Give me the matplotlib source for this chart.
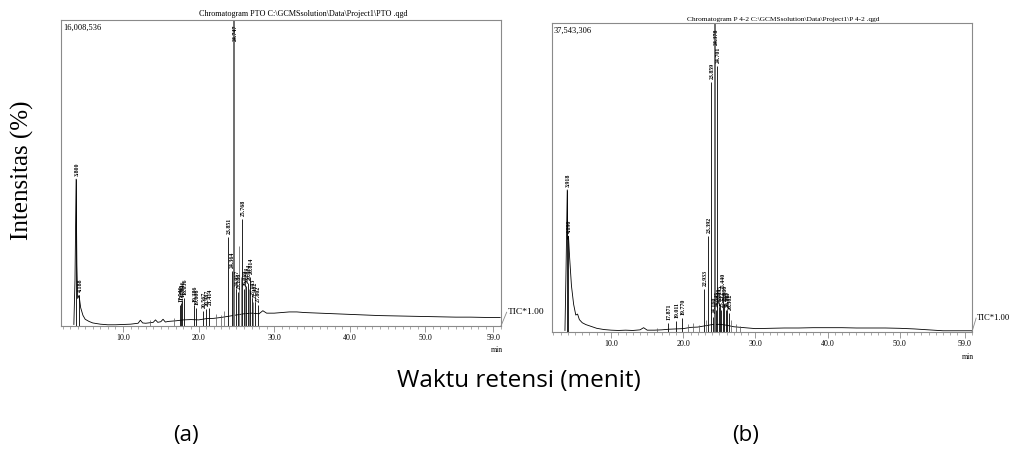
#
# Kromatogram GC-MS: (a) PTO dan (b) P 4-2
#

import matplotlib
matplotlib.use("Agg")
import matplotlib.pyplot as plt
from matplotlib.ticker import FixedLocator, MultipleLocator

#
# Data: waktu retensi (menit), intensitas (% dari puncak tertinggi)
#

# garis dasar / bentuk lebar kromatogram (a)
trace_a = [(3.5, 0.5), (3.65, 15), (3.8, 48), (3.9, 20), (4.0, 9), (4.188, 10),
           (4.4, 6), (4.7, 3.5), (5.0, 2.2), (5.5, 1.5), (6.0, 1.0), (7.0, 0.6),
           (8.0, 0.4), (9.0, 0.4), (10.0, 0.5), (11.0, 0.6), (12.0, 0.9), (12.3, 1.9),
           (12.6, 1.0), (13.0, 0.9), (14.0, 1.2), (14.3, 2.0), (14.6, 1.2), (15.0, 1.4),
           (15.3, 2.2), (15.6, 1.3), (16.0, 1.5), (16.5, 1.6), (17.0, 1.7), (18.0, 2.0),
           (19.0, 2.1), (20.0, 2.0), (21.0, 2.4), (22.0, 2.5), (23.0, 2.8), (24.0, 3.2),
           (25.0, 3.6), (26.0, 4.0), (27.0, 4.2), (28.0, 4.0), (28.5, 5.0), (29.0, 4.2),
           (30.0, 4.2), (31.0, 4.4), (32.0, 4.6), (33.0, 4.6), (34.0, 4.4), (35.0, 4.3),
           (36.0, 4.2), (38.0, 4.0), (40.0, 3.8), (42.0, 3.6), (44.0, 3.4), (46.0, 3.3),
           (48.0, 3.2), (50.0, 3.1), (52.0, 3.0), (54.0, 2.9), (56.0, 2.9), (58.0, 2.8),
           (59.9, 2.8)]

# puncak tajam (a)
peak_time_a = [3.800, 4.188, 17.546, 17.715, 17.846, 18.036, 19.386, 19.606, 20.567,
               20.987, 21.414, 23.851, 24.364, 24.747, 24.957, 25.186, 25.768, 26.019,
               26.233, 26.514, 26.814, 27.103, 27.402, 27.802]
peak_int_a = [48, 10, 7, 7.5, 8.5, 9, 7, 6, 5, 5.5, 6, 29, 18, 100, 12, 11, 35, 12,
              13, 14, 16, 9, 8, 7]
label_a = ["3.800", "4.188", "17.546", "17.715", "17.846", "18.036", "19.386",
           "19.606", "20.567", "20.987", "21.414", "23.851", "24.364", "24.747",
           "24.957", "25.186", "25.768", "26.019", "26.233", "26.514", "26.814",
           "27.103", "27.402", "27.802"]

# puncak kecil tanpa label (a)
small_time_a = [13.6, 16.8, 22.3, 22.9, 23.4, 24.55, 25.35, 25.55, 26.1, 26.7, 27.25]
small_int_a = [1.8, 2.5, 4, 3.5, 5, 20, 26, 16, 18, 12, 8]

# garis dasar kromatogram (b)
trace_b = [(3.6, 0.5), (3.75, 20), (3.918, 46), (3.98, 30), (4.09, 31), (4.25, 24),
           (4.5, 15), (4.8, 9), (5.1, 5.5), (5.35, 5.8), (5.6, 4), (6.0, 3),
           (6.5, 2.4), (7.0, 2.0), (7.5, 1.6), (8.0, 1.2), (9.0, 0.8), (10.0, 0.6),
           (11.0, 0.5), (12.0, 0.6), (13.0, 0.5), (14.0, 0.7), (14.5, 1.4), (15.0, 0.6),
           (16.0, 0.6), (17.0, 0.7), (18.0, 0.9), (19.0, 1.0), (20.0, 1.1), (21.0, 1.5),
           (22.0, 1.6), (23.0, 2.0), (24.0, 2.4), (25.0, 2.5), (26.0, 2.2), (27.0, 1.7),
           (28.0, 1.5), (29.0, 1.3), (30.0, 1.1), (32.0, 1.2), (34.0, 1.3), (36.0, 1.3),
           (38.0, 1.4), (40.0, 1.4), (42.0, 1.4), (44.0, 1.3), (46.0, 1.3), (48.0, 1.3),
           (50.0, 1.2), (52.0, 1.0), (54.0, 0.7), (56.0, 0.4), (58.0, 0.4), (60.0, 0.4)]

# puncak tajam (b)
peak_time_b = [3.918, 4.090, 17.871, 19.011, 19.770, 22.933, 23.392, 23.859, 24.160,
               24.378, 24.545, 24.701, 24.890, 25.035, 25.212, 25.440, 25.680, 25.905,
               26.111, 26.302]
peak_int_b = [46, 31, 3, 3.5, 4.5, 14, 31, 81, 5, 100, 7, 86, 8, 9, 7, 13, 9, 7, 7, 6]
label_b = ["3.918", "4.090", "17.871", "19.011", "19.770", "22.933", "23.392",
           "23.859", "24.160", "24.378", "24.545", "24.701", "24.890", "25.035",
           "25.212", "25.440", "25.680", "25.905", "26.111", "26.302"]

small_time_b = [16.3, 20.7, 21.4, 22.2, 23.1, 26.6, 27.3, 27.9]
small_int_b = [1.2, 2.5, 2.8, 2.2, 4, 4, 2.5, 2.0]

# teks tiap panel
title_a = "Chromatogram PTO C:\\GCMSsolution\\Data\\Project1\\PTO .qgd"
title_b = "Chromatogram P 4-2 C:\\GCMSsolution\\Data\\Project1\\P 4-2 .qgd"
maxint_a = "16,008,536"
maxint_b = "37,543,306"
xticks = [10, 20, 30, 40, 50, 59]

SERIF = "Liberation Serif"
SANS = "Open Sans"
GRIS = "#8a8a8a"


#
# Fungsi untuk menggambar satu kromatogram
#
def gambar_kromatogram(ax, trace, ptime, pint, plabel, stime, sint, title, maxint,
                       tic_dx, tic_dy, fs_title, fs_tic):
    t = [p[0] for p in trace]
    y = [p[1] for p in trace]
    ax.plot(t, y, color="black", lw=0.6)
    ax.vlines(stime, 0, sint, color="#555555", lw=0.5)
    for tt, hh, lb in zip(ptime, pint, plabel):
        if hh >= 99:
            ax.vlines(tt, 0, hh, color="#6e6e6e", lw=1.4)
        else:
            ax.vlines(tt, 0, hh, color="black", lw=0.6)
        ax.text(tt + 0.15, min(hh + 1.0, 93), lb, rotation=90, ha="center", va="bottom",
                fontsize=4.2, family=SERIF, fontweight="bold")

    ax.set_xlim(1.8, 60)
    ax.set_ylim(0, 100)
    ax.set_yticks([])
    ax.xaxis.set_major_locator(FixedLocator(xticks))
    ax.xaxis.set_minor_locator(MultipleLocator(1))
    ax.set_xticklabels(["%.1f" % v for v in xticks], family=SERIF, fontsize=5.8)
    ax.tick_params(axis="x", which="major", direction="out", length=4, width=0.6,
                   color=GRIS, pad=2)
    ax.tick_params(axis="x", which="minor", direction="out", length=2.5, width=0.5,
                   color=GRIS)
    for s in ax.spines.values():
        s.set_color(GRIS)
        s.set_linewidth(0.8)

    ax.text(0.55, 1.005, title, transform=ax.transAxes, ha="center", va="bottom",
            fontsize=fs_title, family=SERIF)
    ax.text(0.004, 0.975, maxint, transform=ax.transAxes, ha="left", va="center",
            fontsize=6.0, family=SERIF)
    ax.text(0.99, -0.08, "min", transform=ax.transAxes, ha="center", va="center",
            fontsize=5.5, family=SERIF)

    # penanda TIC di sisi kanan
    ax.plot([1.0, 1.0 + tic_dx], [0.0, tic_dy], transform=ax.transAxes,
            color=GRIS, lw=0.6, clip_on=False)
    ax.text(1.0 + tic_dx + 0.002, tic_dy, "TIC*1.00", transform=ax.transAxes,
            ha="left", va="center", fontsize=fs_tic, family=SERIF)


#
# Figura
#
fig = plt.figure(figsize=(10.1, 4.55), dpi=100)
ax_a = fig.add_axes([0.0604, 0.2835, 0.4356, 0.6725])
ax_b = fig.add_axes([0.5465, 0.2703, 0.4158, 0.679])

gambar_kromatogram(ax_a, trace_a, peak_time_a, peak_int_a, label_a, small_time_a,
                   small_int_a, title_a, maxint_a, 0.013, 0.045, 5.9, 6.8)
gambar_kromatogram(ax_b, trace_b, peak_time_b, peak_int_b, label_b, small_time_b,
                   small_int_b, title_b, maxint_b, 0.010, 0.045, 5.3, 6.2)

fig.text(0.022, 0.625, "Intensitas (%)", rotation=90, ha="center", va="center",
         fontsize=18, family=SERIF)
fig.text(0.514, 0.163, "Waktu retensi (menit)", ha="center", va="center",
         fontsize=17.5, family=SANS)
fig.text(0.184, 0.042, "(a)", ha="center", va="center", fontsize=16, family=SANS)
fig.text(0.738, 0.042, "(b)", ha="center", va="center", fontsize=16, family=SANS)

fig.savefig("out.png", dpi=100)
